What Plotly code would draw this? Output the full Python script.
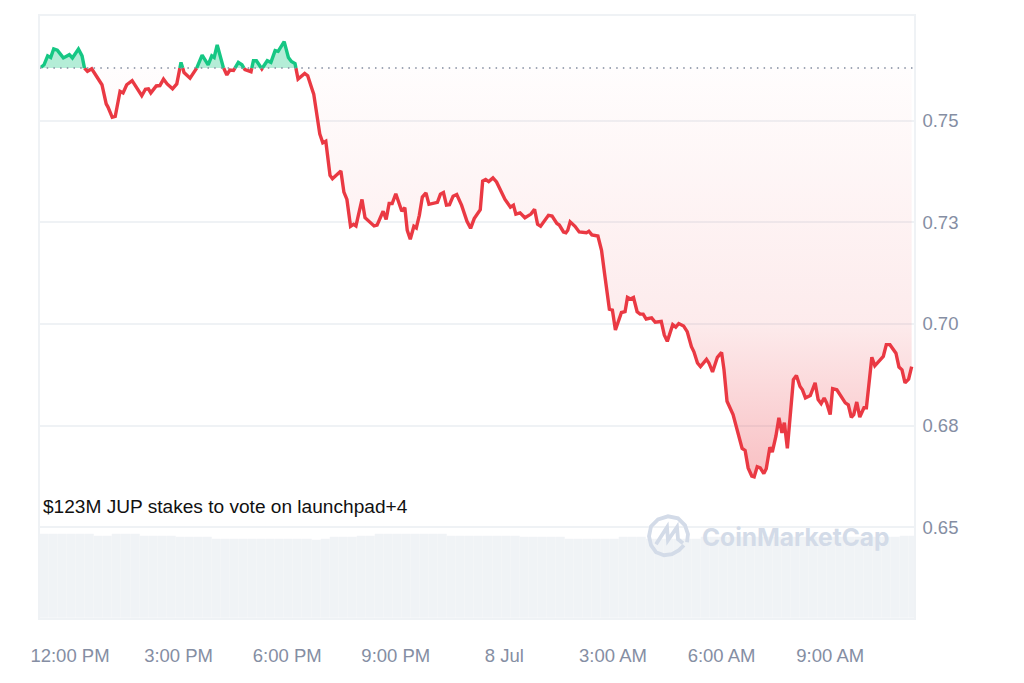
import numpy as np
import pandas as pd
import plotly.graph_objects as go

# --- Data (minutes after 12:00 PM, price in USD)
minutes = [-48, -43, -37, -32, -27, -21, -11, -1, 4, 14, 20, 24, 29, 36, 43, 53, 60, 63, 70, 75,
           83, 88, 94, 103, 119, 125, 130, 134, 143, 149, 155, 161, 170, 177, 184, 189, 199, 210, 219, 229,
           235, 239, 244, 254, 260, 265, 271, 279, 285, 290, 300, 304, 309, 318, 327, 333, 340, 345, 355, 362,
           367, 373, 378, 389, 394, 401, 404, 414, 419, 424, 431, 435, 449, 454, 459, 465, 470, 474, 484, 489,
           494, 504, 509, 519, 524, 529, 534, 540, 550, 555, 559, 564, 570, 574, 579, 584, 590, 595, 609, 614,
           619, 624, 629, 635, 641, 649, 658, 664, 670, 680, 684, 689, 694, 701, 707, 721, 730, 735, 739, 746,
           754, 764, 770, 775, 780, 793, 799, 807, 811, 818, 822, 825, 829, 837, 844, 856, 860, 865, 875, 881,
           886, 890, 894, 899, 904, 914, 920, 924, 929, 934, 940, 945, 950, 955, 964, 970, 980, 985, 990, 999,
           1004, 1009, 1017, 1023, 1030, 1034, 1040, 1045, 1055, 1059, 1065, 1073, 1080, 1084, 1089, 1099, 1105, 1109, 1114, 1119,
           1124, 1130, 1134, 1139, 1144, 1150, 1154, 1160, 1164, 1170, 1175, 1180, 1184, 1189, 1195, 1199, 1204, 1210, 1214, 1219,
           1227, 1235, 1240, 1245, 1250, 1254, 1260, 1264, 1271, 1285, 1290, 1295, 1299, 1304, 1309, 1316, 1320, 1329, 1334, 1348,
           1353, 1359, 1369, 1374, 1379, 1384, 1390, 1395]
prices = [.7631, .7637, .7659, .7655, .7676, .7673, .7654, .7662, .7654, .7676, .7659, .7629, .7621, .7627, .7610, .7588, .7541, .7533, .7508, .7510,
          .7572, .7568, .7588, .7598, .7561, .7577, .7578, .7568, .7585, .7586, .7602, .7590, .7578, .7590, .7643, .7618, .7604, .7629, .7661, .7637,
          .7659, .7655, .7686, .7631, .7612, .7624, .7623, .7643, .7637, .7625, .7620, .7647, .7647, .7627, .7647, .7643, .7672, .7670, .7694, .7655,
          .7645, .7640, .7602, .7616, .7610, .7578, .7565, .7467, .7445, .7449, .7365, .7357, .7376, .7324, .7306, .7240, .7245, .7241, .7306, .7261,
          .7255, .7241, .7243, .7277, .7257, .7296, .7296, .7320, .7277, .7286, .7230, .7208, .7240, .7236, .7267, .7312, .7322, .7294, .7299, .7319,
          .7323, .7292, .7293, .7314, .7318, .7292, .7252, .7235, .7259, .7281, .7351, .7355, .7350, .7359, .7349, .7306, .7287, .7292, .7270, .7273,
          .7261, .7270, .7282, .7245, .7240, .7267, .7265, .7247, .7243, .7226, .7224, .7230, .7251, .7240, .7226, .7224, .7228, .7219, .7216, .7181,
          .7124, .7071, .7036, .7034, .6985, .7028, .7030, .7065, .7061, .7065, .7030, .7024, .7024, .7012, .7015, .7004, .7006, .6973, .6957, .6998,
          .6992, .7001, .6995, .6981, .6944, .6932, .6904, .6895, .6913, .6904, .6882, .6918, .6930, .6887, .6810, .6777, .6744, .6724, .6694, .6689,
          .6646, .6626, .6624, .6649, .6646, .6632, .6644, .6697, .6685, .6724, .6769, .6732, .6757, .6694, .6810, .6863, .6873, .6846, .6838, .6818,
          .6824, .6855, .6814, .6804, .6818, .6806, .6777, .6841, .6838, .6806, .6801, .6770, .6777, .6808, .6771, .6794, .6794, .6918, .6897, .6920,
          .6949, .6949, .6928, .6894, .6887, .6855, .6864, .6895]
base_price = 0.7629

# volume per 15 minute bar, relative scale
volumes = [14.0, 14.0, 14.0, 14.0, 14.0, 14.0, 13.7, 13.7, 14.0, 14.0, 14.0, 13.7, 13.7, 13.7, 13.7, 13.4,
           13.4, 13.4, 13.4, 13.1, 13.1, 13.1, 13.1, 13.1, 13.1, 13.1, 13.1, 13.1, 13.1, 13.1, 12.9, 13.1,
           13.4, 13.4, 13.4, 13.7, 13.7, 14.0, 14.0, 14.0, 14.0, 14.0, 14.0, 14.0, 14.0, 13.7, 13.7, 13.7,
           13.7, 13.7, 13.7, 13.7, 13.7, 13.4, 13.4, 13.4, 13.4, 13.4, 13.1, 13.1, 13.1, 13.1, 13.1, 13.1,
           13.4, 13.4, 13.4, 13.1, 13.1, 13.1, 13.1, 13.1, 13.1, 13.4, 13.4, 13.4, 13.4, 13.4, 13.4, 13.4,
           13.4, 13.4, 13.4, 13.4, 13.4, 13.4, 13.4, 13.4, 13.4, 13.4, 13.4, 13.4, 13.4, 13.4, 13.4, 13.7, 13.7]

price_ticks = [0.65, 0.675, 0.70, 0.725, 0.75]
price_labels = ["0.65", "0.68", "0.70", "0.73", "0.75"]
time_ticks = ["2025-07-07 12:00", "2025-07-07 15:00", "2025-07-07 18:00", "2025-07-07 21:00",
              "2025-07-08 00:00", "2025-07-08 03:00", "2025-07-08 06:00", "2025-07-08 09:00"]
time_labels = ["12:00 PM", "3:00 PM", "6:00 PM", "9:00 PM", "8 Jul", "3:00 AM", "6:00 AM", "9:00 AM"]

RED = "#ea3943"
GREEN = "#16c784"
GRID = "#eff2f5"
LABEL = "#858ea3"
LOGO = "#d3dbe8"
FONT = "Liberation Sans"

noon = pd.Timestamp("2025-07-07 12:00")
to_time = lambda m: noon + pd.to_timedelta(np.asarray(m, dtype=float), unit="min")

# --- Split the line where it crosses the opening price
split_m, split_p = [minutes[0]], [prices[0]]
for i in range(1, len(minutes)):
    p0, p1 = prices[i - 1], prices[i]
    if (p0 - base_price) * (p1 - base_price) < 0:
        frac = (base_price - p0) / (p1 - p0)
        split_m.append(minutes[i - 1] + frac * (minutes[i] - minutes[i - 1]))
        split_p.append(base_price)
    split_m.append(minutes[i])
    split_p.append(p1)
split_p = np.array(split_p)
times = to_time(split_m)
base_line = np.full(len(times), base_price)
eps = 1e-9
red_line = [p if p <= base_price + eps else None for p in split_p]
green_line = [p if p >= base_price - eps else None for p in split_p]

fig = go.Figure()

# --- Volume underneath
bar_times = pd.date_range("2025-07-07 11:17:48", periods=len(volumes), freq="15min")
fig.add_trace(go.Bar(x=bar_times, y=volumes, yaxis="y2", width=900000, marker_color="#f0f3f6",
                     marker_line=dict(color="rgba(255,255,255,0.2)", width=0.5), showlegend=False))

# --- Area fills against the opening price
fig.add_trace(go.Scatter(x=times, y=base_line, mode="lines", line=dict(width=0), showlegend=False))
fig.add_trace(go.Scatter(x=times, y=np.minimum(split_p, base_price), mode="lines", line=dict(width=0),
                         fill="tonexty",
                         fillgradient=dict(type="vertical", start=base_price, stop=0.6624,
                                           colorscale=[[0, "rgba(234,57,67,0.01)"], [0.62, "rgba(234,57,67,0.10)"],
                                                       [1, "rgba(234,57,67,0.32)"]]),
                         showlegend=False))
fig.add_trace(go.Scatter(x=times, y=base_line, mode="lines", line=dict(width=0), showlegend=False))
fig.add_trace(go.Scatter(x=times, y=np.maximum(split_p, base_price), mode="lines", line=dict(width=0),
                         fill="tonexty", fillcolor="rgba(22,199,132,0.32)", showlegend=False))

# --- Price line
fig.add_trace(go.Scatter(x=times, y=red_line, mode="lines", line=dict(color=RED, width=3.4), showlegend=False))
fig.add_trace(go.Scatter(x=times, y=green_line, mode="lines", line=dict(color=GREEN, width=3.4), showlegend=False))

# --- Opening price dotted line
fig.add_shape(type="line", xref="paper", x0=0, x1=1, yref="y", y0=base_price, y1=base_price,
              line=dict(color="#808a9d", width=1.5, dash="1.5px,5.2px"))

# --- CoinMarketCap watermark, drawn in paper space
def px(x, y):
    return f"{(x - 40) / 874:.4f},{(619 - y) / 604:.4f}"

logo_arc = ("M " + px(684, 546) + " L " + px(679, 551) + " L " + px(672, 555) + " L " + px(664, 556) + " L " + px(656, 553)
            + " L " + px(651, 546) + " L " + px(649, 537) + " L " + px(651, 527) + " L " + px(658, 520) + " L " + px(668, 517)
            + " L " + px(678, 519) + " L " + px(685, 526) + " L " + px(688, 535) + " L " + px(687, 543))
logo_m = ("M " + px(656, 545) + " L " + px(667, 528) + " L " + px(668, 541) + " L " + px(677, 528) + " L " + px(678, 540) + " L " + px(683, 544))
for path in [logo_arc, logo_m]:
    fig.add_shape(type="path", path=path, xref="paper", yref="paper", line=dict(color=LOGO, width=3.8))

fig.add_annotation(x=to_time(-48), y=0.6551, text="$123M JUP stakes to vote on launchpad+4", showarrow=False,
                   xanchor="left", yanchor="middle", font=dict(family=FONT, size=19.1, color="#111111"))
fig.add_annotation(xref="paper", yref="paper", x=(795 - 40) / 874, y=(619 - 538) / 604, text="CoinMarketCap",
                   showarrow=False, xanchor="center", yanchor="middle",
                   font=dict(family="Inter", size=24.5, color=LOGO, weight=700))

# page has an 8px body margin, so the figure is smaller than the window
fig.update_layout(
    width=1008, height=667, margin=dict(l=32, r=102, t=6, b=57),
    paper_bgcolor="white", plot_bgcolor="white", bargap=0,
    font=dict(family=FONT, size=18.5, color=LABEL),
    xaxis=dict(type="date", range=[to_time(-49.7), to_time(1398.9)], tickmode="array",
               tickvals=time_ticks, ticktext=time_labels, showgrid=False, zeroline=False,
               showline=True, mirror=True, linecolor=GRID, linewidth=1.5,
               ticks="outside", ticklen=20, tickcolor="rgba(0,0,0,0)"),
    yaxis=dict(side="right", range=[0.6277, 0.7757], tickmode="array", tickvals=price_ticks, ticktext=price_labels,
               showgrid=True, gridcolor=GRID, gridwidth=1.5, zeroline=False,
               showline=True, mirror=True, linecolor=GRID, linewidth=1.5,
               ticks="outside", ticklen=3, tickcolor="rgba(0,0,0,0)"),
    yaxis2=dict(overlaying="y", range=[0, 100], visible=False),
)

fig.write_html("out.html")
